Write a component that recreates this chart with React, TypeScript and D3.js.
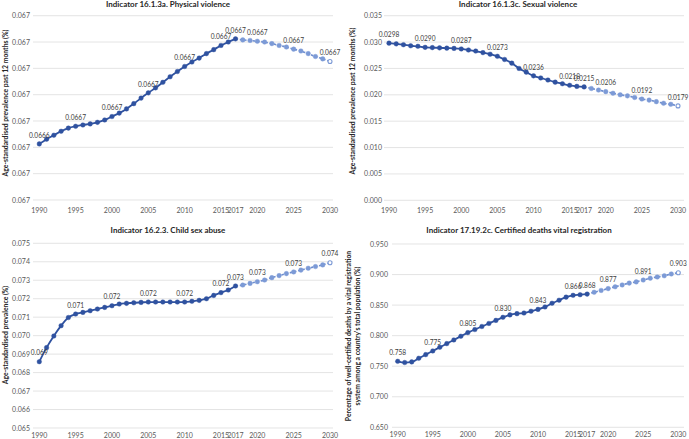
import * as d3 from 'd3';

// Years shared by all four panels
const years = d3.range(1990, 2031);
const labelYears = [1990, 1995, 2000, 2005, 2010, 2015, 2017, 2020, 2025, 2030];
const xTickYears = [1990, 1995, 2000, 2005, 2010, 2015, 2017, 2020, 2025, 2030];
const lastObserved = 2017;

// Indicator 16.1.3a. Physical violence
const physicalValues = [
    0.0666426, 0.0666462, 0.0666492, 0.0666522, 0.0666546, 0.066656, 0.066657, 0.0666578, 0.066659, 0.0666608,
    0.0666634, 0.066666, 0.0666692, 0.0666732, 0.0666774, 0.0666814, 0.0666852, 0.0666894, 0.0666936, 0.0666976,
    0.0667014, 0.0667048, 0.0667078, 0.0667112, 0.0667142, 0.0667174, 0.06672, 0.0667224, 0.0667216, 0.0667212,
    0.0667206, 0.06672, 0.0667188, 0.0667174, 0.0667162, 0.0667146, 0.0667132, 0.0667112, 0.066709, 0.0667072,
    0.0667052,
];
const physicalTicks = [0.0666, 0.06662, 0.06664, 0.06666, 0.06668, 0.0667, 0.06672, 0.06674];

// Indicator 16.1.3c. Sexual violence
const sexualValues = [
    0.0298, 0.02966, 0.0295, 0.0293, 0.0292, 0.029, 0.02895, 0.0289, 0.02885, 0.0288,
    0.0287, 0.0285, 0.0283, 0.028, 0.0277, 0.0273, 0.0267, 0.026, 0.025, 0.0243,
    0.0236, 0.0232, 0.0228, 0.0224, 0.0221, 0.0218, 0.0216, 0.0215, 0.0212, 0.0209,
    0.0206, 0.0203, 0.02, 0.0198, 0.0195, 0.0192, 0.019, 0.0187, 0.0184, 0.0182,
    0.0179,
];
const sexualTicks = [0, 0.005, 0.01, 0.015, 0.02, 0.025, 0.03, 0.035];

// Indicator 16.2.3. Child sex abuse
const childValues = [
    0.06859, 0.06935, 0.06998, 0.07054, 0.07098, 0.07117, 0.07126, 0.07135, 0.07144, 0.07153,
    0.07162, 0.07171, 0.07175, 0.07178, 0.0718, 0.07182, 0.07182, 0.07182, 0.07182, 0.07182,
    0.07182, 0.07186, 0.07191, 0.072, 0.07218, 0.07233, 0.07247, 0.07269, 0.07274, 0.07283,
    0.07292, 0.07301, 0.07314, 0.07325, 0.07336, 0.07345, 0.07355, 0.07365, 0.07374, 0.07383,
    0.07395,
];
const childTicks = [0.065, 0.066, 0.067, 0.068, 0.069, 0.07, 0.071, 0.072, 0.073, 0.074, 0.075];

// Indicator 17.19.2c. Certified deaths vital registration
const deathsValues = [
    0.758, 0.756, 0.757, 0.763, 0.769, 0.775, 0.781, 0.787, 0.793, 0.799,
    0.805, 0.81, 0.815, 0.82, 0.825, 0.83, 0.834, 0.836, 0.837, 0.84,
    0.843, 0.847, 0.853, 0.858, 0.863, 0.866, 0.867, 0.868, 0.871, 0.874,
    0.877, 0.88, 0.883, 0.886, 0.888, 0.891, 0.894, 0.896, 0.898, 0.901,
    0.903,
];
const deathsTicks = [0.65, 0.7, 0.75, 0.8, 0.85, 0.9, 0.95];

const FONT = 'Lato, "Noto Sans", sans-serif';
const SOLID = '#2F52A0';
const FORECAST = '#6E8ED0';
const FORECAST_DOT = '#7C9AD6';

interface PanelProps {
    title: string;
    yLabel: string[];
    values: number[];
    ticks: number[];
    tickDigits: number;
    labelDigits: number;
    box: {
        x0: number; x1: number; yTop: number; yBottom: number;
        gridL: number; gridR: number; titleX: number; titleY: number;
        yLabelX: number; yLabelY: number; tickRight: number; xLabelY: number;
    };
}

function Panel({ title, yLabel, values, ticks, tickDigits, labelDigits, box }: PanelProps) {
    const x = d3.scaleLinear().domain([1990, 2030]).range([box.x0, box.x1]);
    const y = d3.scaleLinear()
        .domain([ticks[0], ticks[ticks.length - 1]])
        .range([box.yBottom, box.yTop]);

    const points = years.map((yr, i) => ({ yr, v: values[i] }));
    const observed = points.filter(p => p.yr <= lastObserved);
    const forecast = points.filter(p => p.yr >= lastObserved);

    const line = d3.line<{ yr: number; v: number }>()
        .x(d => x(d.yr))
        .y(d => y(d.v))
        .curve(d3.curveMonotoneX);

    return (
        <g>
            <text x={box.titleX} y={box.titleY} textAnchor="middle" fontSize={8}
                fontWeight="bold" fill="#262626" fontFamily={FONT}>{title}</text>

            {ticks.map(t => (
                <g key={t}>
                    <line x1={box.gridL} x2={box.gridR} y1={y(t)} y2={y(t)} stroke="#D9D9D9" strokeWidth={0.7} />
                    <text x={box.tickRight} y={y(t) + 2.5} textAnchor="end" fontSize={7}
                        fill="#595959" fontFamily={FONT}>{t.toFixed(tickDigits)}</text>
                </g>
            ))}

            {xTickYears.map(yr => (
                <text key={yr} x={x(yr)} y={box.xLabelY} textAnchor="middle" fontSize={7}
                    fill="#595959" fontFamily={FONT}>{yr}</text>
            ))}

            <text transform={`translate(${box.yLabelX},${box.yLabelY}) rotate(-90)`} textAnchor="middle"
                fontSize={6.8} fontWeight="bold" fill="#262626" fontFamily={FONT}>
                {yLabel.map((l, i) => (
                    <tspan key={i} x={0} dy={i === 0 ? 0 : 8.5}>{l}</tspan>
                ))}
            </text>

            <path d={line(forecast) || ''} fill="none" stroke={FORECAST} strokeWidth={1.6} strokeDasharray="2.5,1.8" />
            <path d={line(observed) || ''} fill="none" stroke={SOLID} strokeWidth={1.8} />

            {points.map(p => {
                const isLast = p.yr === 2030;
                const isForecast = p.yr > lastObserved;
                return (
                    <circle key={p.yr} cx={x(p.yr)} cy={y(p.v)} r={isLast ? 2 : 2.3}
                        fill={isLast ? '#FFFFFF' : isForecast ? FORECAST_DOT : SOLID}
                        stroke={isForecast ? FORECAST_DOT : SOLID} strokeWidth={isLast ? 1.1 : 0.4} />
                );
            })}

            {points.filter(p => labelYears.includes(p.yr)).map(p => (
                <text key={p.yr} x={x(p.yr)} y={y(p.v) - 6.3} textAnchor="middle" fontSize={6.6}
                    fill="#404040" fontFamily={FONT}>{p.v.toFixed(labelDigits)}</text>
            ))}
        </g>
    );
}

export default function App() {
    return (
        <svg width={689} height={439} style={{ position: 'absolute', left: 0, top: 0, background: '#fff' }}>
            <Panel
                title="Indicator 16.1.3a. Physical violence"
                yLabel={['Age-standardised prevalence  past 12 months (%)']}
                values={physicalValues}
                ticks={physicalTicks}
                tickDigits={3}
                labelDigits={4}
                box={{ x0: 39.3, x1: 330, yTop: 15.7, yBottom: 200, gridL: 33, gridR: 333, titleX: 168, titleY: 7,
                    yLabelX: 8, yLabelY: 103, tickRight: 30, xLabelY: 213 }}
            />
            <Panel
                title="Indicator 16.1.3c. Sexual violence"
                yLabel={['Age-standardised prevalence past 12 months (%)']}
                values={sexualValues}
                ticks={sexualTicks}
                tickDigits={3}
                labelDigits={4}
                box={{ x0: 389, x1: 678, yTop: 15.7, yBottom: 200.3, gridL: 384, gridR: 684, titleX: 518, titleY: 7,
                    yLabelX: 355, yLabelY: 101, tickRight: 382, xLabelY: 213 }}
            />
            <Panel
                title="Indicator 16.2.3. Child sex abuse"
                yLabel={['Age-standardised prevalence (%)']}
                values={childValues}
                ticks={childTicks}
                tickDigits={3}
                labelDigits={3}
                box={{ x0: 39.3, x1: 330, yTop: 243.3, yBottom: 428, gridL: 33, gridR: 333, titleX: 168, titleY: 233,
                    yLabelX: 8, yLabelY: 335, tickRight: 30, xLabelY: 438 }}
            />
            <Panel
                title="Indicator 17.19.2c. Certified deaths vital registration"
                yLabel={['Percentage of well-certified deaths by a vital registration',
                    "system among a country's total population (%)"]}
                values={deathsValues}
                ticks={deathsTicks}
                tickDigits={3}
                labelDigits={3}
                box={{ x0: 397.7, x1: 678.3, yTop: 244, yBottom: 427.3, gridL: 392, gridR: 684, titleX: 519, titleY: 233,
                    yLabelX: 351, yLabelY: 336, tickRight: 388, xLabelY: 437 }}
            />
        </svg>
    );
}
